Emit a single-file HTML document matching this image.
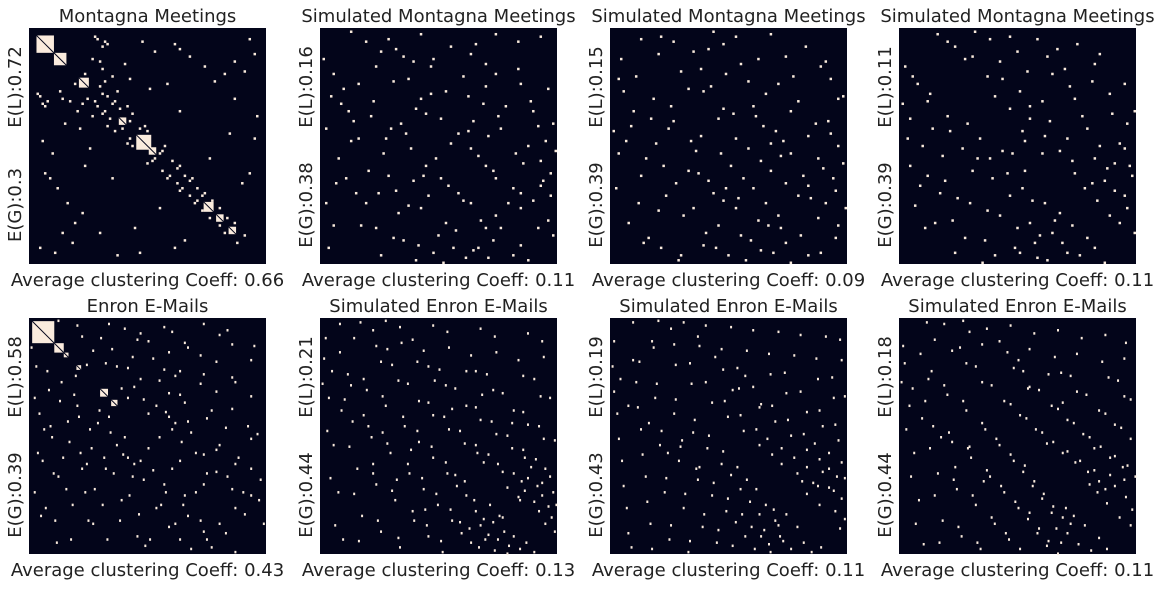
<!DOCTYPE html>
<html><head><meta charset="utf-8"><style>
body{margin:0;background:#fff;width:1160px;height:584px;overflow:hidden;font-family:"Liberation Sans","DejaVu Sans",sans-serif;}
svg text{font-family:"DejaVu Sans","Liberation Sans",sans-serif;fill:#222;}
</style></head><body>
<svg id="c" width="1160" height="584"></svg>
<script>
const titles=["Montagna Meetings","Simulated Montagna Meetings","Simulated Montagna Meetings","Simulated Montagna Meetings","Enron E-Mails","Simulated Enron E-Mails","Simulated Enron E-Mails","Simulated Enron E-Mails"];
const elLabels=["E(L):0.72","E(L):0.16","E(L):0.15","E(L):0.11","E(L):0.58","E(L):0.21","E(L):0.19","E(L):0.18"];
const egLabels=["E(G):0.3","E(G):0.38","E(G):0.39","E(G):0.39","E(G):0.39","E(G):0.44","E(G):0.43","E(G):0.44"];
const coeffs=["0.66","0.11","0.09","0.11","0.43","0.13","0.11","0.11"];
const nodes=[95,95,95,95,150,150,150,150];
const blocks=[[[3,7],[10,5],[20,4],[36,3],[43,6],[48,3],[70,4],[75,3],[80,3]],[],[],[],[[2,14],[16,6],[22,3],[30,3],[45,5],[52,4]],[],[],[]];
const edges=[
[[5,30],[5,45],[8,60],[12,25],[15,70],[18,22],[20,40],[22,55],[25,35],[28,82],[30,33],[33,60],[40,44],[44,90],[50,52],[55,60],[60,65],[62,85],[66,70],[10,90],[3,26],[14,38],[18,78],[24,48],[6,58],[35,91],[42,80],[52,72],[58,88],[11,64]],
[[2,40],[5,18],[8,30],[10,60],[12,45],[15,22],[18,70],[20,35],[22,80],[25,50],[28,40],[30,65],[33,85],[36,48],[40,72],[42,55],[45,90],[48,60],[50,78],[55,66],[58,92],[60,70],[63,88],[66,80],[70,75],[3,88],[7,52],[14,66],[26,44],[38,93],[11,33],[19,57],[31,74],[47,83],[9,24]],
[[3,20],[6,45],[9,33],[11,70],[14,52],[17,28],[20,88],[23,40],[26,62],[29,75],[32,45],[35,58],[38,82],[41,66],[44,50],[47,91],[50,72],[53,60],[56,85],[59,77],[62,70],[65,90],[68,80],[2,64],[8,39],[13,86],[21,55],[27,93],[34,49],[43,79],[51,68],[16,36],[4,12]],
[[1,30],[4,55],[7,22],[10,80],[13,40],[16,66],[19,35],[22,90],[25,48],[28,70],[31,52],[34,85],[37,60],[40,75],[43,58],[46,88],[49,64],[52,78],[55,92],[58,70],[61,82],[64,74],[67,90],[2,15],[9,47],[18,61],[27,38],[33,94],[45,50],[54,86],[12,26],[6,71]],
[[4,30],[6,60],[8,90],[10,120],[12,45],[14,75],[18,100],[20,40],[24,65],[26,140],[30,55],[32,85],[35,110],[38,70],[40,130],[44,58],[48,95],[50,62],[55,80],[58,115],[60,75],[65,100],[68,138],[70,90],[75,82],[80,120],[85,105],[90,95],[95,140],[100,125],[105,110],[110,135],[115,145],[120,130],[3,110],[9,70],[16,128],[28,48],[36,92],[46,118],[62,88],[73,144],[88,132],[98,112]],
[[2,25],[5,50],[8,80],[11,110],[14,140],[17,35],[20,65],[23,95],[26,125],[29,45],[32,75],[35,105],[38,135],[41,55],[44,85],[47,115],[50,145],[53,68],[56,98],[59,128],[62,78],[65,108],[68,138],[71,88],[74,118],[77,148],[80,98],[83,128],[86,106],[89,136],[92,112],[95,142],[98,122],[101,131],[104,140],[107,118],[110,147],[113,125],[116,135],[119,144],[3,12],[7,33],[13,58],[19,42],[27,61],[33,92],[39,72],[48,102],[57,83],[66,121]],
[[1,30],[4,60],[7,90],[10,120],[13,145],[16,40],[19,70],[22,100],[25,130],[28,50],[31,80],[34,110],[37,140],[40,60],[43,90],[46,120],[49,148],[52,72],[55,102],[58,132],[61,82],[64,112],[67,142],[70,92],[73,122],[76,99],[79,129],[82,108],[85,138],[88,116],[91,146],[94,124],[97,134],[100,143],[103,121],[106,131],[109,141],[2,14],[6,38],[11,55],[18,27],[24,66],[36,85],[45,77],[54,95]],
[[3,28],[6,55],[9,85],[12,115],[15,143],[18,38],[21,68],[24,98],[27,128],[30,48],[33,78],[36,108],[39,138],[42,58],[45,88],[48,118],[51,146],[54,70],[57,100],[60,130],[63,80],[66,110],[69,140],[72,90],[75,120],[78,97],[81,127],[84,106],[87,136],[90,114],[93,144],[96,123],[99,133],[102,142],[105,120],[108,130],[2,17],[8,44],[14,63],[20,33],[26,75],[35,94],[44,81],[53,103]]
];
const extraEdges=[
[[4,27],[6,31],[9,50],[13,28],[16,29],[19,33],[21,30],[23,28],[26,29],[27,31],[29,34],[31,39],[32,36],[34,41],[37,40],[39,46],[41,47],[47,54],[49,53],[53,57],[56,59],[59,62],[61,64],[64,67],[67,69],[69,73],[72,76],[76,79],[78,82],[83,86],[7,29],[17,86],[21,74],[4,88],[13,82]],
[[1,12],[4,27],[6,62],[13,37],[16,79],[21,29],[24,91],[27,59],[29,84],[32,38],[35,71],[37,61],[39,87],[43,67],[46,52],[49,94],[51,63],[54,81],[57,69],[61,89],[64,77],[67,92],[69,85],[72,80],[77,91],[80,87],[83,93],[2,70],[5,79],[15,44],[23,66],[34,42],[41,59],[53,88]],
[[1,41],[5,25],[7,78],[10,19],[12,59],[15,84],[18,46],[22,67],[24,31],[28,91],[31,57],[33,72],[36,43],[39,61],[42,88],[45,69],[48,55],[52,83],[54,93],[57,64],[60,89],[63,79],[67,75],[70,86],[72,94],[76,83],[79,91],[84,90],[3,50],[19,73],[25,37],[37,87],[46,64]],
[[3,44],[5,19],[8,63],[11,29],[14,78],[17,51],[20,41],[23,68],[26,84],[29,57],[32,44],[35,73],[38,91],[41,49],[44,67],[47,80],[50,57],[53,69],[56,83],[59,93],[62,77],[65,86],[69,79],[72,91],[75,84],[78,88],[82,94],[4,36],[11,59],[21,77],[36,52],[48,90]],
[[1,18],[3,50],[5,85],[7,125],[11,33],[13,68],[15,98],[17,142],[19,52],[21,88],[23,108],[25,78],[27,118],[29,36],[31,62],[33,95],[37,128],[39,82],[41,108],[43,66],[47,88],[49,140],[51,72],[53,98],[57,128],[59,86],[63,112],[66,92],[69,124],[72,102],[76,140],[78,96],[83,118],[86,110],[92,130],[97,118],[102,146],[108,128],[112,140],[124,136],[130,148]],
[[1,41],[4,71],[6,101],[9,131],[12,21],[15,51],[18,81],[21,111],[24,141],[27,38],[30,68],[33,98],[36,128],[39,49],[42,79],[45,109],[49,139],[52,62],[55,92],[58,122],[61,71],[64,101],[67,131],[70,81],[73,111],[76,141],[79,91],[82,121],[85,99],[88,129],[91,103],[94,133],[97,115],[100,145],[103,127],[106,137],[109,129],[112,140],[115,126],[118,149],[122,138],[126,146],[130,142],[135,148]],
[[2,46],[5,76],[8,106],[11,136],[14,26],[17,56],[20,86],[23,116],[26,146],[29,41],[32,71],[35,101],[38,131],[41,51],[44,81],[47,111],[50,141],[53,64],[56,94],[59,124],[62,74],[65,104],[68,134],[71,84],[74,114],[77,144],[80,94],[83,124],[86,102],[89,132],[92,108],[95,138],[98,118],[101,148],[104,128],[107,138],[111,124],[114,146],[118,132],[122,142],[127,148],[133,145]],
[[1,40],[4,70],[7,100],[10,130],[13,22],[16,52],[19,82],[22,112],[25,142],[28,42],[31,72],[34,102],[37,132],[40,52],[43,82],[46,112],[49,142],[52,66],[55,96],[58,126],[61,76],[64,106],[67,136],[70,86],[73,116],[76,146],[79,93],[82,123],[85,103],[88,133],[91,111],[94,141],[97,119],[100,149],[103,126],[106,136],[110,125],[113,143],[117,131],[121,147],[126,139],[131,146]]
];
const svg=document.getElementById('c');
const NS='http://www.w3.org/2000/svg';
function mk(t,a){const e=document.createElementNS(NS,t);for(const k in a)e.setAttribute(k,a[k]);return e;}
const xs=[29,320,610,899], ys=[28,318], W=237, H=236;
for(let p=0;p<8;p++){
  const x0=xs[p%4], y0=ys[Math.floor(p/4)], n=nodes[p], cw=W/n, ch=H/n;
  const g=mk('g',{});
  
  
  svg.appendChild(g);
  const bg=mk('rect',{x:x0,y:y0,width:W,height:H,fill:'#03051a'});
  
  
  g.appendChild(bg);
  blocks[p].forEach(b=>{
    const r=mk('rect',{x:x0+b[0]*cw,y:y0+b[0]*ch,width:b[1]*cw,height:b[1]*ch,fill:'#faebdd'});
    
    
    g.appendChild(r);
    const d=mk('line',{x1:x0+b[0]*cw,y1:y0+b[0]*ch,x2:x0+(b[0]+b[1])*cw,y2:y0+(b[0]+b[1])*ch,stroke:'#03051a','stroke-width':1});
    g.appendChild(d);
  });
  edges[p].concat(extraEdges[p]).forEach(e=>{
    [[e[0],e[1]],[e[1],e[0]]].forEach(([i,j])=>{
      const r=mk('rect',{x:x0+j*cw,y:y0+i*ch,width:Math.max(cw,2),height:Math.max(ch,2.5),fill:'#faebdd'});
      
      
      g.appendChild(r);
    });
  });
  const cx=x0+W/2;
  const t=mk('text',{x:cx,y:y0-6,'text-anchor':'middle','font-size':18});
  t.textContent=titles[p];
  
  
  g.appendChild(t);
  const xl=mk('text',{x:cx,y:y0+H+22,'text-anchor':'middle','font-size':18});
  xl.textContent='Average clustering Coeff: '+coeffs[p];
  
  
  g.appendChild(xl);
  const l1=mk('text',{x:0,y:0,'text-anchor':'middle','font-size':18,transform:`translate(${x0-8},${y0+H*0.25}) rotate(-90)`});
  l1.textContent=elLabels[p];
  
  
  g.appendChild(l1);
  const l2=mk('text',{x:0,y:0,'text-anchor':'middle','font-size':18,transform:`translate(${x0-8},${y0+H*0.75}) rotate(-90)`});
  l2.textContent=egLabels[p];
  
  
  g.appendChild(l2);
}
</script>
</body></html>
